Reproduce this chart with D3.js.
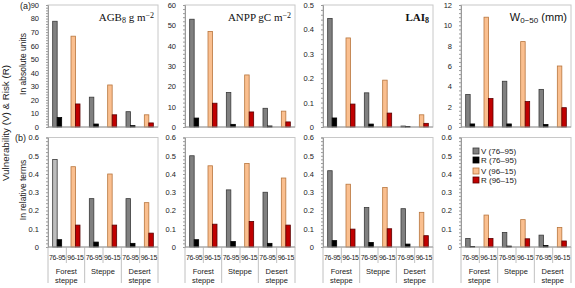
<!DOCTYPE html>
<html>
<head>
<meta charset="utf-8">
<script src="https://cdn.jsdelivr.net/npm/d3@7"></script>
<style>
  body { margin: 0; background: #fff; }
  svg { display: block; font-family: "Liberation Sans", Arial, sans-serif; }
</style>
</head>
<body>
<svg id="chart"></svg>
<script>
const width = 575;
const height = 288;

// categories and periods
const categories = ["Forest steppe", "Steppe", "Desert steppe"];
const catLines = [["Forest", "steppe"], ["Steppe"], ["Desert", "steppe"]];
const periods = ["76-95", "96-15"];
const seriesNames = ["V (76\u201395)", "R (76\u201395)", "V (96\u201315)", "R (96\u201315)"];

// (a) absolute units, one value per category
const agbV76 = [78, 22, 11.3];
const agbR76 = [7, 2.2, 1];
const agbV96 = [67, 31, 9];
const agbR96 = [17, 9, 3];

const anppV76 = [53, 17, 9.2];
const anppR76 = [4.4, 1.3, 0.5];
const anppV96 = [47, 25.6, 7.8];
const anppR96 = [11.7, 7.4, 2.5];

const laiV76 = [0.445, 0.14, 0.004];
const laiR76 = [0.037, 0.012, 0.002];
const laiV96 = [0.365, 0.192, 0.05];
const laiR96 = [0.094, 0.057, 0.015];

const wV76 = [3.2, 4.5, 3.7];
const wR76 = [0.3, 0.3, 0.25];
const wV96 = [10.8, 8.4, 6.0];
const wR96 = [2.8, 2.5, 1.9];

// (b) relative terms
const agbRelV76 = [0.48, 0.265, 0.265];
const agbRelR76 = [0.04, 0.027, 0.02];
const agbRelV96 = [0.44, 0.40, 0.243];
const agbRelR96 = [0.12, 0.12, 0.076];

const anppRelV76 = [0.5, 0.313, 0.3];
const anppRelR76 = [0.04, 0.03, 0.02];
const anppRelV96 = [0.445, 0.458, 0.378];
const anppRelR96 = [0.125, 0.14, 0.12];

const laiRelV76 = [0.418, 0.216, 0.21];
const laiRelR76 = [0.035, 0.025, 0.016];
const laiRelV96 = [0.344, 0.326, 0.19];
const laiRelR96 = [0.098, 0.1, 0.062];

const wRelV76 = [0.047, 0.08, 0.065];
const wRelR76 = [0.003, 0.005, 0.008];
const wRelV96 = [0.175, 0.15, 0.107];
const wRelR96 = [0.047, 0.045, 0.033];

// y axis ticks
const agbTicks = [0, 10, 20, 30, 40, 50, 60, 70, 80, 90];
const anppTicks = [0, 10, 20, 30, 40, 50, 60];
const laiTicks = [0, 0.1, 0.2, 0.3, 0.4, 0.5];
const wTicks = [0, 2, 4, 6, 8, 10, 12];
const relTicks = [0, 0.1, 0.2, 0.3, 0.4, 0.5, 0.6];

const fills = ["#808080", "#000000", "#fabf8f", "#c00000"];
const strokes = ["#3a3a3a", "#000000", "#b8763e", "#5a0000"];

const svg = d3.select("#chart").attr("width", width).attr("height", height);

const lefts = [48, 185, 323, 461];
const panelW = 110;

const topPanels = [
  { v76: agbV76, r76: agbR76, v96: agbV96, r96: agbR96, ticks: agbTicks },
  { v76: anppV76, r76: anppR76, v96: anppV96, r96: anppR96, ticks: anppTicks },
  { v76: laiV76, r76: laiR76, v96: laiV96, r96: laiR96, ticks: laiTicks },
  { v76: wV76, r76: wR76, v96: wV96, r96: wR96, ticks: wTicks }
];
const botPanels = [
  { v76: agbRelV76, r76: agbRelR76, v96: agbRelV96, r96: agbRelR96, ticks: relTicks },
  { v76: anppRelV76, r76: anppRelR76, v96: anppRelV96, r96: anppRelR96, ticks: relTicks },
  { v76: laiRelV76, r76: laiRelR76, v96: laiRelV96, r96: laiRelR96, ticks: relTicks },
  { v76: wRelV76, r76: wRelR76, v96: wRelV96, r96: wRelR96, ticks: relTicks }
];

const slots = [];
categories.forEach(c => periods.forEach(p => slots.push(c + "|" + p)));

function fmt(d) { return d === 0 ? "0" : String(d); }

function drawPanel(p, i, yTop, yBot, isBottom) {
  const x0 = lefts[i], x1 = lefts[i] + panelW;
  const g = svg.append("g");
  const xScale = d3.scaleBand().domain(slots).range([x0, x1]);
  const inner = d3.scaleBand().domain(["V", "R"]).range([-4.5, 4.5]);
  const yScale = d3.scaleLinear()
    .domain([0, p.ticks[p.ticks.length - 1]])
    .range([yBot, yTop]);

  // frame
  g.append("rect")
    .attr("x", x0).attr("y", yTop)
    .attr("width", panelW).attr("height", yBot - yTop)
    .attr("fill", "none").attr("stroke", "#c8c8c8").attr("stroke-width", 1);

  // bars
  const bars = [];
  categories.forEach((c, ci) => {
    bars.push({ slot: c + "|76-95", k: "V", s: 0, v: p.v76[ci] });
    bars.push({ slot: c + "|76-95", k: "R", s: 1, v: p.r76[ci] });
    bars.push({ slot: c + "|96-15", k: "V", s: 2, v: p.v96[ci] });
    bars.push({ slot: c + "|96-15", k: "R", s: 3, v: p.r96[ci] });
  });
  g.selectAll("rect.bar")
    .data(bars)
    .join("rect")
    .attr("class", "bar")
    .attr("x", d => xScale(d.slot) + xScale.bandwidth() / 2 + inner(d.k))
    .attr("width", inner.bandwidth())
    .attr("y", d => yScale(d.v))
    .attr("height", d => yBot - yScale(d.v))
    .attr("fill", (d, j) => (isBottom && i === 0 && j === 0) ? "#bdbdbd" : fills[d.s])
    .attr("stroke", d => strokes[d.s])
    .attr("stroke-width", 0.8);

  // minor ticks on y axis
  const step = p.ticks[1] - p.ticks[0];
  const minor = d3.range(0, p.ticks[p.ticks.length - 1] + step / 10, step / 5);
  g.append("g")
    .attr("transform", `translate(${x0},0)`)
    .call(d3.axisLeft(yScale).tickValues(minor).tickSize(2).tickFormat(""))
    .call(a => a.selectAll("line").attr("stroke", "#9a9a9a"))
    .call(a => a.select(".domain").attr("stroke", "#9a9a9a"));

  // y labels
  g.append("g")
    .attr("transform", `translate(${x0},0)`)
    .call(d3.axisLeft(yScale).tickValues(p.ticks).tickSize(0).tickPadding(9).tickFormat(fmt))
    .call(a => a.select(".domain").remove())
    .call(a => a.selectAll("text")
      .attr("font-size", 7.5)
      .attr("font-family", "Liberation Sans, Arial, sans-serif")
      .attr("fill", "#222"));

  // x axis line
  g.append("line")
    .attr("x1", x0).attr("x2", x1).attr("y1", yBot).attr("y2", yBot)
    .attr("stroke", "#9a9a9a");

  if (isBottom) {
    g.append("g")
      .attr("transform", `translate(0,${yBot})`)
      .call(d3.axisBottom(xScale).tickSize(0).tickPadding(8).tickFormat(d => d.split("|")[1]))
      .call(a => a.select(".domain").remove())
      .call(a => a.selectAll("text")
        .attr("font-size", 7)
        .attr("letter-spacing", -0.3)
        .attr("font-family", "Liberation Sans, Arial, sans-serif")
        .attr("fill", "#222"));

    // separators
    const bw = xScale.bandwidth();
    slots.forEach((s, si) => {
      const xs = xScale(s);
      const major = si % 2 === 0;
      g.append("line")
        .attr("x1", xs).attr("x2", xs)
        .attr("y1", yBot).attr("y2", major ? 283 : 263)
        .attr("stroke", "#b0b0b0").attr("stroke-width", 0.8);
    });
    g.append("line")
      .attr("x1", x1).attr("x2", x1).attr("y1", yBot).attr("y2", 283)
      .attr("stroke", "#b0b0b0").attr("stroke-width", 0.8);

    // category labels
    catLines.forEach((lines, ci) => {
      const cx = xScale(categories[ci] + "|76-95") + bw;
      const t = g.append("text")
        .attr("x", cx)
        .attr("text-anchor", "middle")
        .attr("font-size", 7.5)
        .attr("fill", "#222");
      if (lines.length === 1) {
        t.attr("y", 274).text(lines[0]);
      } else {
        t.append("tspan").attr("x", cx).attr("y", 274).text(lines[0]);
        t.append("tspan").attr("x", cx).attr("y", 282.5).text(lines[1]);
      }
    });
  }
  return g;
}

topPanels.forEach((p, i) => drawPanel(p, i, 5, 127, false));
botPanels.forEach((p, i) => drawPanel(p, i, 137.5, 247, true));

// panel titles
function title(i, parts, family, weight) {
  const t = svg.append("text")
    .attr("x", lefts[i] + panelW - 4)
    .attr("y", 21)
    .attr("text-anchor", "end")
    .attr("font-family", family)
    .attr("font-weight", weight || "normal")
    .attr("font-size", 11)
    .attr("fill", "#111");
  parts.forEach(pt => {
    const s = t.append("tspan").text(pt.t);
    if (pt.sub) s.attr("baseline-shift", "-25%").attr("font-size", 8);
    if (pt.sup) s.attr("baseline-shift", "40%").attr("font-size", 8);
  });
}
title(0, [{ t: "AGB" }, { t: "8", sub: 1 }, { t: " g m" }, { t: "\u22122", sup: 1 }], "Liberation Serif, Times New Roman, serif");
title(1, [{ t: "ANPP gC m" }, { t: "\u22122", sup: 1 }], "Liberation Serif, Times New Roman, serif");
title(2, [{ t: "LAI" }, { t: "8", sub: 1 }], "Liberation Serif, Times New Roman, serif", "bold");
title(3, [{ t: "W" }, { t: "0\u221250", sub: 1 }, { t: " (mm)" }], "Liberation Sans, Arial, sans-serif");

// panel letters
svg.append("text").attr("x", 20).attr("y", 9).attr("font-size", 9).attr("fill", "#222").text("(a)");
svg.append("text").attr("x", 15).attr("y", 141).attr("font-size", 9).attr("fill", "#222").text("(b)");

// rotated axis titles
function vtext(x, y, size, txt) {
  svg.append("text")
    .attr("transform", `translate(${x},${y}) rotate(-90)`)
    .attr("text-anchor", "middle")
    .attr("font-size", size)
    .attr("fill", "#222")
    .text(txt);
}
vtext(9, 123, 9.8, "Vulnerability (V) & Risk (R)");
vtext(26, 64, 8.5, "In absolute units");
vtext(26, 190, 8.5, "In relative terms");

// legend
const legend = svg.append("g");
const legY = [151.5, 160.5, 171.5, 180.5];
seriesNames.forEach((n, k) => {
  legend.append("rect")
    .attr("x", 473).attr("y", legY[k] - 3.5)
    .attr("width", 6).attr("height", 6)
    .attr("fill", fills[k]).attr("stroke", strokes[k]).attr("stroke-width", 0.8);
  legend.append("text")
    .attr("x", 481).attr("y", legY[k] + 2.5)
    .attr("font-size", 8).attr("fill", "#222")
    .text(n);
});
</script>
</body>
</html>
